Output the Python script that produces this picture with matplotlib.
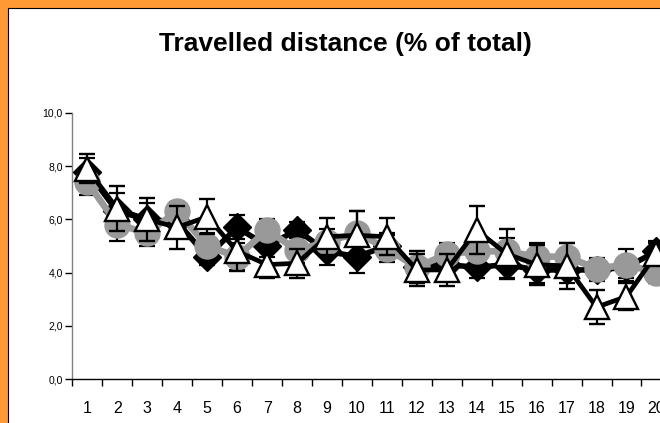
import matplotlib
matplotlib.use("Agg")
import matplotlib.pyplot as plt
from matplotlib.patches import Rectangle
from matplotlib.ticker import FuncFormatter, FixedLocator
import numpy as np

plt.rcParams['font.family'] = ['Liberation Sans', 'DejaVu Sans']

days = list(range(1, 21))
day_labels = [str(d) for d in days]

series_a = [7.8, 6.3, 6.0, 5.9, 4.6, 5.7, 5.0, 5.6, 4.8, 4.6, 5.0, 4.2, 4.3, 4.2, 4.3, 4.1, 4.1, 4.1, 4.2, 4.8]
err_a = [0.5, 0.7, 0.6, 0.5, 0.3, 0.45, 0.4, 0.3, 0.5, 0.6, 0.5, 0.6, 0.5, 0.4, 0.5, 0.5, 0.5, 0.4, 0.4, 0.4]

series_b = [7.4, 5.8, 5.5, 6.3, 5.0, 4.6, 5.6, 4.85, 5.15, 5.5, 4.9, 4.2, 4.7, 4.8, 4.8, 4.6, 4.6, 4.15, 4.3, 4.0]
err_b = [0.5, 0.6, 0.5, 0.35, 0.5, 0.5, 0.4, 0.5, 0.5, 0.8, 0.5, 0.6, 0.4, 0.5, 0.5, 0.5, 0.5, 0.4, 0.6, 0.4]

series_c = [7.9, 6.4, 6.0, 5.7, 6.1, 4.8, 4.3, 4.35, 5.35, 5.4, 5.35, 4.1, 4.1, 5.6, 4.7, 4.3, 4.25, 2.7, 3.1, 4.7]
err_c = [0.55, 0.85, 0.8, 0.8, 0.65, 0.75, 0.5, 0.55, 0.7, 0.9, 0.7, 0.6, 0.6, 0.9, 0.95, 0.75, 0.85, 0.65, 0.5, 0.4]

W, H = 660, 423
fig = plt.figure(figsize=(W / 100, H / 100), dpi=100)
fig.patch.set_facecolor('#FF9933')
fig.add_artist(Rectangle((8 / W, -0.05), 1.1, (H - 8) / H + 0.05, transform=fig.transFigure,
                         facecolor='white', edgecolor='black', lw=0.8, zorder=0))

left = 72.4 / W
bottom = (H - 379) / H
height = (379 - 113) / H
ax = fig.add_axes([left, bottom, 1 - left, height])
ax.set_facecolor('none')

ax.set_ylim(0, 10)
ax.set_xlim(0.5, 0.5 + (W - 72.4) / 29.95)

common_err = dict(ecolor='black', elinewidth=1.6, capsize=5.5, capthick=1.6)

ax.errorbar(days, series_a, yerr=err_a, color='black', lw=4.0, marker='D', markersize=14,
            markerfacecolor='black', markeredgecolor='black', zorder=3, clip_on=False, **common_err)
ax.errorbar(days, series_b, yerr=err_b, color='#999999', lw=4.8, marker='o', markersize=18,
            markerfacecolor='#999999', markeredgecolor='#999999', zorder=4, clip_on=False, **common_err)
ax.errorbar(days, series_c, yerr=err_c, color='black', lw=3.4, marker='^', markersize=17.5,
            markerfacecolor='white', markeredgecolor='black', markeredgewidth=1.7, zorder=5,
            clip_on=False, **common_err)

for s in ['top', 'right']:
    ax.spines[s].set_visible(False)
ax.spines['left'].set_color('#808080')
ax.spines['left'].set_linewidth(1.0)
ax.spines['bottom'].set_color('black')
ax.spines['bottom'].set_linewidth(1.0)

ax.set_yticks([0, 2, 4, 6, 8, 10])
ax.yaxis.set_major_formatter(FuncFormatter(lambda v, p: f"{v:.1f}".replace('.', ',')))
ax.tick_params(axis='y', direction='out', length=5, width=1, color='black', labelsize=7.5, pad=2)

ax.set_xticks(days)
ax.set_xticklabels(day_labels)
ax.xaxis.set_minor_locator(FixedLocator(np.arange(0.5, 21, 1)))
ax.tick_params(axis='x', which='major', length=0, labelsize=11.5, pad=16)
ax.tick_params(axis='x', which='minor', direction='out', length=5, width=1, color='black')

fig.text(345 / W, 1 - 44 / H, 'Travelled distance (% of total)', ha='center', va='center',
         fontsize=19, fontweight='bold')

fig.savefig('out.png', dpi=100, facecolor=fig.get_facecolor())
